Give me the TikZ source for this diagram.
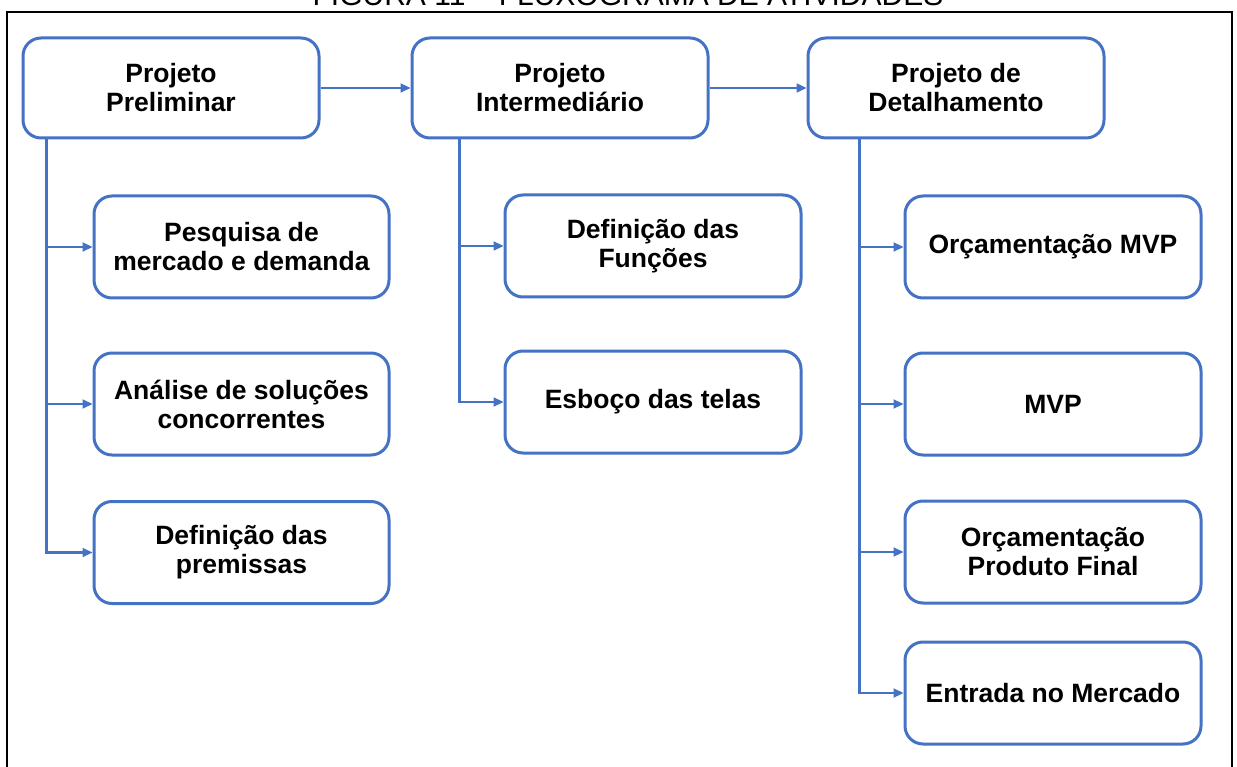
\documentclass[tikz,border=0pt]{standalone}
\usepackage{fontspec}
\setmainfont{Liberation Sans}
\usetikzlibrary{arrows.meta}
\definecolor{boxblue}{HTML}{4472C4}
\tikzset{
  stage/.style={draw=boxblue, line width=3pt, rounded corners=18pt, fill=white,
    minimum width=296pt, minimum height=100pt, align=center, inner sep=0pt,
    font=\fontsize{26.5}{29}\selectfont\bfseries},
  conn/.style={draw=boxblue, line width=2.2pt, -{Triangle[length=10pt,width=9pt]}},
  frame/.style={draw=black, line width=2.5pt}
}
\begin{document}
\begin{tikzpicture}[x=1pt,y=-1pt]
\useasboundingbox (0,0) rectangle (1237,767);
\begin{scope}
\clip (0,0) rectangle (1237,767);
\node[anchor=base, font=\fontsize{30}{34}\selectfont] (title) at (628,6) {FIGURA 11 – FLUXOGRAMA DE ATIVIDADES};
\draw[frame] (7,775) -- (7,12) -- (1232,12) -- (1232,775);
\end{scope}

\node[stage] (A) at (171,88) {Projeto\\Preliminar};
\node[stage] (B) at (560,88) {Projeto\\Intermediário};
\node[stage] (C) at (956,88) {Projeto de\\Detalhamento};

\node[stage, minimum width=295pt, minimum height=102pt] (P1) at (241.5,247) {Pesquisa de\\mercado e demanda};
\node[stage, minimum width=295pt, minimum height=102pt] (P2) at (241.5,404) {Análise de soluções\\concorrentes};
\node[stage, minimum width=295pt, minimum height=102pt] (P3) at (241.5,552.5) {Definição das\\premissas};

\node[stage, minimum width=296pt, minimum height=102pt] (I1) at (653,246) {Definição das\\Funções};
\node[stage, minimum width=296pt, minimum height=102pt] (I2) at (653,402) {Esboço das telas};

\node[stage, minimum width=296pt, minimum height=102pt] (D1) at (1053,247) {Orçamentação MVP};
\node[stage, minimum width=296pt, minimum height=102pt] (D2) at (1053,404) {MVP};
\node[stage, minimum width=296pt, minimum height=102pt] (D3) at (1053,552) {Orçamentação\\Produto Final};
\node[stage, minimum width=296pt, minimum height=102pt] (D4) at (1053,693) {Entrada no Mercado};

\draw[conn] (A.east) -- (B.west);
\draw[conn] (B.east) -- (C.west);

\coordinate (tA) at ([xshift=25pt]A.south west);
\coordinate (tB) at ([xshift=49pt]B.south west);
\coordinate (tC) at ([xshift=53pt]C.south west);

\draw[conn] (tA) |- (P1.west);
\draw[conn] (tA) |- (P2.west);
\draw[conn] (tA) |- (P3.west);

\draw[conn] (tB) |- (I1.west);
\draw[conn] (tB) |- (I2.west);

\draw[conn] (tC) |- (D1.west);
\draw[conn] (tC) |- (D2.west);
\draw[conn] (tC) |- (D3.west);
\draw[conn] (tC) |- (D4.west);
\end{tikzpicture}
\end{document}
